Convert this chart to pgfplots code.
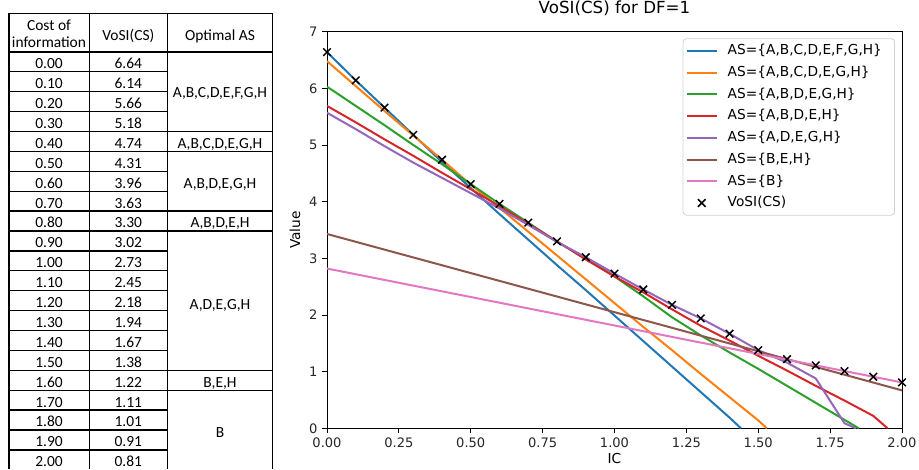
\documentclass[border=0pt]{standalone}
\usepackage{fontspec}
\setmainfont{DejaVu Sans}
\newfontfamily\tabfont{Carlito}
\usepackage{pgfplots}
\pgfplotsset{compat=1.18}
\definecolor{c1}{HTML}{1F77B4}
\definecolor{c2}{HTML}{FF7F0E}
\definecolor{c3}{HTML}{2CA02C}
\definecolor{c4}{HTML}{D62728}
\definecolor{c5}{HTML}{9467BD}
\definecolor{c6}{HTML}{8C564B}
\definecolor{c7}{HTML}{E377C2}
\begin{document}
\begin{tikzpicture}
\path[use as bounding box] (0,0) rectangle (689.25pt,351.75pt);
% ---------------- table ----------------
\begin{scope}[x=0.75pt,y=-0.75pt,yshift=351.75pt,line width=1pt,
  every node/.style={font=\tabfont\fontsize{11.6}{13}\selectfont,inner sep=0pt,anchor=base}]
  % inner row lines (first two columns)
  \foreach \i in {1,...,20}{\draw (9,{51.9+19.9*\i}) -- (167.3,{51.9+19.9*\i});}
  % full lines between groups
  \foreach \i in {0,4,5,8,9,16,17}{\draw (9,{51.9+19.9*\i}) -- (272.7,{51.9+19.9*\i});}
  \draw (9,13.3) -- (272.7,13.3);
  \foreach \xx in {9,89.3,167.3,272.7}{\draw (\xx,13.3) -- (\xx,469);}
  % header
  \node at (49,30) {Cost of};
  \node at (49,47.6) {information};
  \node at (128.3,40) {VoSI(CS)};
  \node at (220,40) {Optimal AS};
  \foreach \c/\v [count=\i from 0] in {0.00/6.64,0.10/6.14,0.20/5.66,0.30/5.18,0.40/4.74,0.50/4.31,0.60/3.96,0.70/3.63,0.80/3.30,0.90/3.02,1.00/2.73,1.10/2.45,1.20/2.18,1.30/1.94,1.40/1.67,1.50/1.38,1.60/1.22,1.70/1.11,1.80/1.01,1.90/0.91,2.00/0.81}{
    \node at (49,{68.7+19.9*\i}) {\c};
    \node at (128.3,{68.7+19.9*\i}) {\v};
  }
  \node at (220,97) {A,B,C,D,E,F,G,H};
  \node at (220,148.3) {A,B,C,D,E,G,H};
  \node at (220,188.5) {A,B,D,E,G,H};
  \node at (220,227.8) {A,B,D,E,H};
  \node at (220,309) {A,D,E,G,H};
  \node at (220,387.5) {B,E,H};
  \node at (220,437.5) {B};
\end{scope}
% ---------------- chart ----------------
\begin{axis}[
  scale only axis, width=431.25pt, height=297.5pt,
  at={(245.25pt,30.5pt)}, anchor=south west,
  xmin=0, xmax=2, ymin=0, ymax=7,
  xtick={0,0.25,0.5,0.75,1,1.25,1.5,1.75,2},
  ytick={0,1,2,3,4,5,6,7},
  xticklabel style={/pgf/number format/.cd,fixed,fixed zerofill,precision=2},
  /pgf/number format/assume math mode=true,
  tick label style={font=\fontsize{9.8}{11}\selectfont, text=black!85},
  tick align=outside, tick pos=left, major tick length=3.7pt,
  every tick/.style={black, line width=0.6pt},
  axis line style={line width=0.6pt},
  title={VoSI(CS) for DF=1},
  title style={font=\fontsize{12.5}{14}\selectfont, at={(axis description cs:0.5,1)}, anchor=base, yshift=7.5pt},
  xlabel={IC}, ylabel={Value},
  xlabel style={font=\fontsize{10.3}{12}\selectfont, at={([yshift=-26.25pt]axis description cs:0.5,0)}, anchor=base},
  ylabel style={font=\fontsize{10.3}{12}\selectfont, at={([xshift=-20.25pt]axis description cs:0,0.5)}, anchor=base},
  legend image code/.code={\draw[mark repeat=2,mark phase=2,#1] plot coordinates {(0pt,0pt) (11.25pt,0pt) (22.5pt,0pt)};},
  legend cell align=left,
  legend style={at={(0.9878,0.9834)}, anchor=north east, draw=black!18, rounded corners=2.5pt, line width=0.6pt,
    font=\fontsize{10.3}{12}\selectfont, inner xsep=2pt, inner ysep=1pt, row sep=0pt,
    nodes={inner xsep=7.5pt, inner ysep=3.3pt, text height=7.7pt, text depth=2pt}},
  every axis plot/.append style={line width=1.5pt},
]
\addplot[c1] coordinates {(0,6.64)(0.1,6.14)(0.2,5.66)(0.3,5.18)(0.4,4.70)(0.5,4.24)(0.6,3.78)(0.7,3.33)(0.8,2.88)(0.9,2.44)(1.0,1.99)(1.1,1.54)(1.2,1.09)(1.3,0.64)(1.4,0.19)(1.44,0)};
\addlegendentry{AS=\{A,B,C,D,E,F,G,H\}}
\addplot[c2] coordinates {(0,6.48)(0.1,6.04)(0.2,5.60)(0.3,5.17)(0.4,4.74)(0.5,4.30)(0.6,3.89)(0.7,3.47)(0.8,3.05)(0.9,2.63)(1.0,2.21)(1.1,1.79)(1.2,1.38)(1.3,0.96)(1.4,0.55)(1.5,0.14)(1.53,0)};
\addlegendentry{AS=\{A,B,C,D,E,G,H\}}
\addplot[c3] coordinates {(0,6.03)(0.1,5.69)(0.2,5.35)(0.3,5.00)(0.4,4.66)(0.5,4.31)(0.6,3.96)(0.7,3.63)(0.8,3.29)(0.9,3.00)(1.0,2.68)(1.1,2.33)(1.2,1.96)(1.3,1.64)(1.4,1.34)(1.5,1.05)(1.6,0.75)(1.7,0.45)(1.8,0.15)(1.85,0)};
\addlegendentry{AS=\{A,B,D,E,G,H\}}
\addplot[c4] coordinates {(0,5.69)(0.1,5.40)(0.2,5.10)(0.3,4.81)(0.4,4.51)(0.5,4.22)(0.6,3.92)(0.7,3.61)(0.8,3.30)(0.9,2.98)(1.0,2.68)(1.1,2.40)(1.2,2.10)(1.3,1.81)(1.4,1.55)(1.5,1.28)(1.6,1.02)(1.7,0.75)(1.8,0.49)(1.9,0.22)(1.95,0)};
\addlegendentry{AS=\{A,B,D,E,H\}}
\addplot[c5] coordinates {(0,5.57)(0.1,5.28)(0.2,4.98)(0.3,4.69)(0.4,4.42)(0.5,4.15)(0.6,3.88)(0.7,3.59)(0.8,3.29)(0.9,3.02)(1.0,2.73)(1.1,2.45)(1.2,2.18)(1.3,1.94)(1.4,1.67)(1.5,1.38)(1.6,1.16)(1.7,0.88)(1.8,0.09)(1.84,0)};
\addlegendentry{AS=\{A,D,E,G,H\}}
\addplot[c6] coordinates {(0,3.43)(2,0.67)};
\addlegendentry{AS=\{B,E,H\}}
\addplot[c7] coordinates {(0,2.82)(2,0.81)};
\addlegendentry{AS=\{B\}}
\addplot[only marks, mark=x, mark size=4pt, black, line width=1.1pt] coordinates {(0,6.64)(0.1,6.14)(0.2,5.66)(0.3,5.18)(0.4,4.74)(0.5,4.31)(0.6,3.96)(0.7,3.63)(0.8,3.30)(0.9,3.02)(1.0,2.73)(1.1,2.45)(1.2,2.18)(1.3,1.94)(1.4,1.67)(1.5,1.38)(1.6,1.22)(1.7,1.11)(1.8,1.01)(1.9,0.91)(2.0,0.81)};
\addlegendentry{VoSI(CS)}
\end{axis}
\end{tikzpicture}
\end{document}
